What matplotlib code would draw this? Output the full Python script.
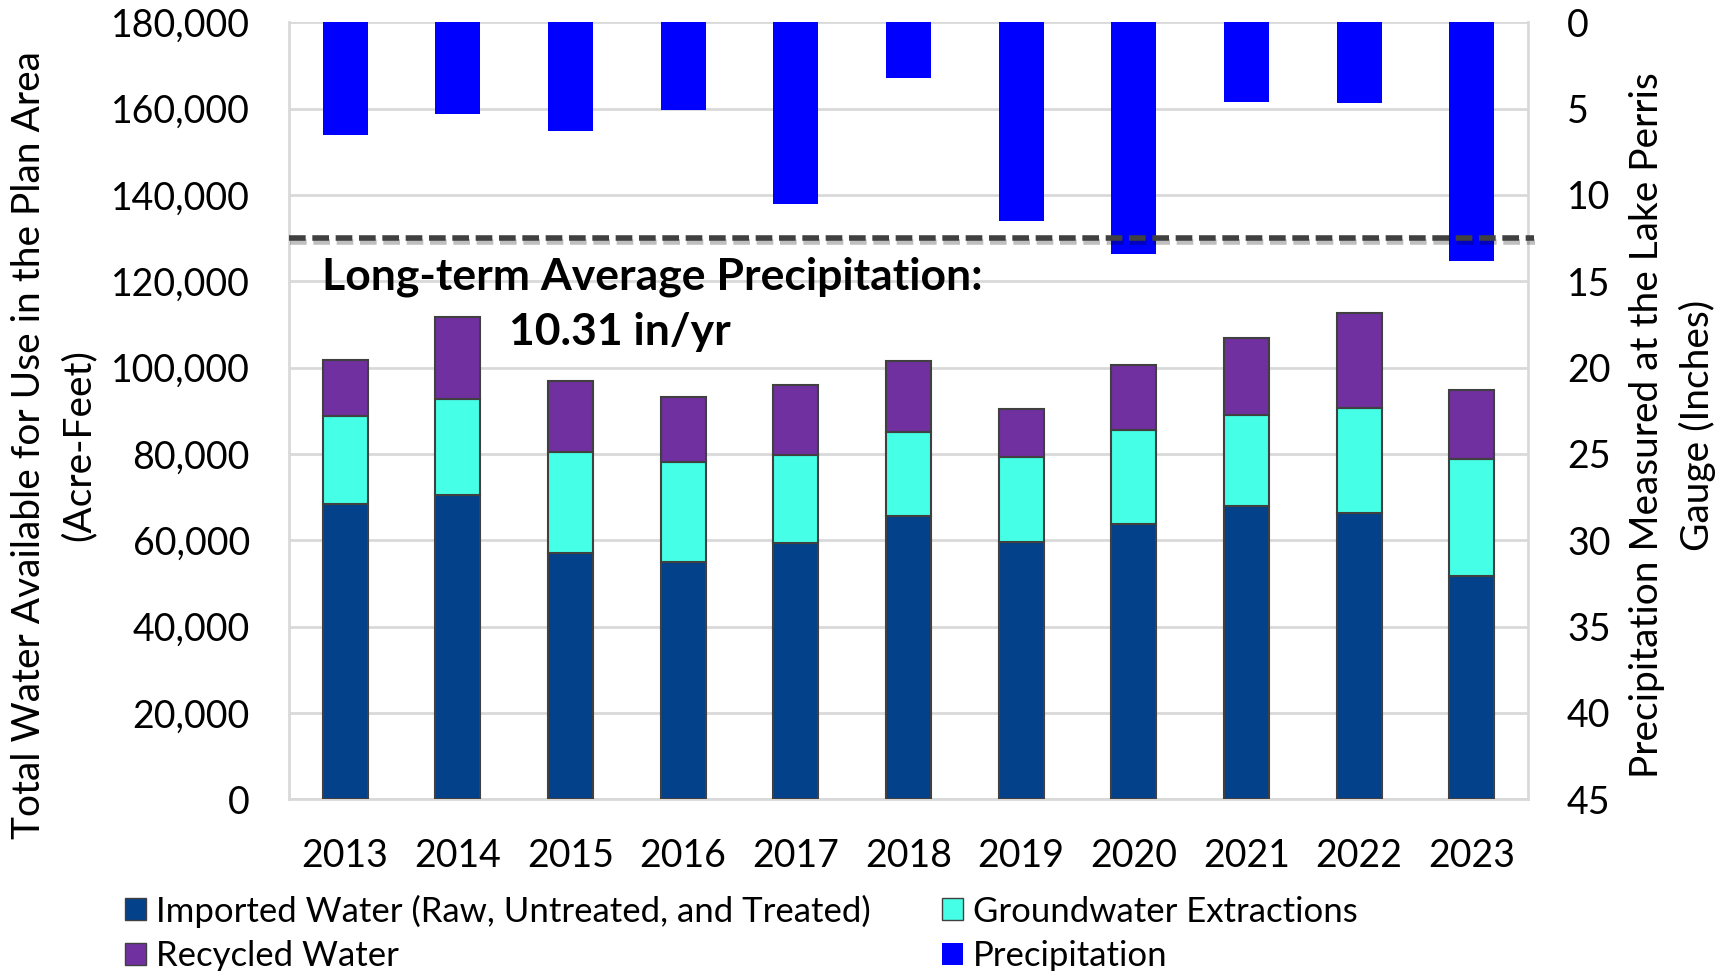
"""Water supply in the plan area vs. precipitation at Lake Perris"""
import numpy as np
import matplotlib
matplotlib.use("Agg")
from matplotlib import pyplot as plt
from matplotlib import patheffects as pe
from matplotlib.patches import Patch
from matplotlib.ticker import FuncFormatter

years = ["2013", "2014", "2015", "2016", "2017", "2018", "2019", "2020", "2021", "2022", "2023"]
imported = [68500, 70500, 57000, 54900, 59300, 65600, 59500, 63800, 68000, 66400, 51700]
groundwater = [20300, 22300, 23500, 23200, 20500, 19500, 19700, 21800, 20900, 24300, 27200]
recycled = [12900, 18900, 16300, 15100, 16200, 16500, 11200, 15100, 17900, 21900, 15800]
precip = [6.5, 5.3, 6.3, 5.1, 10.5, 3.2, 11.5, 13.4, 4.6, 4.7, 13.8]
avg_line = 130000  # where the long-term average line is drawn (left axis units)

c_imp = "#03418A"
c_gw = "#45FFE6"
c_rec = "#7030A0"
c_pre = "#0000FF"
edge = "#404040"

plt.rcParams["font.family"] = ["Lato", "DejaVu Sans"]

if __name__ == "__main__":
    fig = plt.figure(figsize=(17.31, 9.71), dpi=100)
    ax = fig.add_axes([0.1668, 0.177, 0.716, 0.800])
    x = np.arange(len(years))
    w = 0.40

    imp = np.array(imported)
    gw = np.array(groundwater)
    rec = np.array(recycled)
    ax.bar(x, imp, w, color=c_imp, edgecolor=edge, linewidth=1.5, zorder=3)
    ax.bar(x, gw, w, bottom=imp, color=c_gw, edgecolor=edge, linewidth=1.5, zorder=3)
    ax.bar(x, rec, w, bottom=imp + gw, color=c_rec, edgecolor=edge, linewidth=1.5, zorder=3)

    ax.set_ylim(0, 180000)
    ax.set_xlim(-0.5, len(years) - 0.5)
    ax.set_yticks(np.arange(0, 180001, 20000))
    ax.yaxis.set_major_formatter(FuncFormatter(lambda v, p: f"{v:,.0f}"))
    ax.set_xticks(x)
    ax.set_xticklabels(years)
    ax.tick_params(axis="y", length=0, labelsize=27, pad=28)
    ax.tick_params(axis="x", length=0, labelsize=27, pad=28)
    ax.grid(axis="y", color="#D9D9D9", linewidth=2, zorder=0)
    for s in ["top", "right"]:
        ax.spines[s].set_visible(False)
    for s in ["left", "bottom"]:
        ax.spines[s].set_color("#D9D9D9")
        ax.spines[s].set_linewidth(2)

    ax2 = ax.twinx()
    ax2.bar(x, precip, w, color=c_pre, zorder=3)
    ax2.set_ylim(45, 0)
    ax2.set_yticks(np.arange(0, 46, 5))
    ax2.tick_params(axis="y", length=0, labelsize=27, pad=28)
    for s in ["top", "left", "bottom"]:
        ax2.spines[s].set_visible(False)
    ax2.spines["right"].set_color("#D9D9D9")
    ax2.spines["right"].set_linewidth(2)

    fig.text(0.031, 0.542, "Total Water Available for Use in the Plan Area\n(Acre-Feet)",
             fontsize=28, rotation=90, ha="center", va="center", multialignment="center",
             linespacing=1.45)
    fig.text(0.966, 0.562, "Precipitation Measured at the Lake Perris\nGauge (Inches)",
             fontsize=28, rotation=90, ha="center", va="center", multialignment="center",
             linespacing=1.45)

    ax2.plot([-0.5, len(years) - 0.45], [avg_line, avg_line], transform=ax.transData,
             color="#404040", linestyle=(0, (3, 1.2)), linewidth=4, zorder=4, clip_on=False,
             path_effects=[pe.SimpleLineShadow(offset=(1, -3), alpha=0.25), pe.Normal()])
    ax2.text(2.73, 121000, "Long-term Average Precipitation:", transform=ax.transData,
             fontsize=32, fontweight="bold", ha="center", va="center", zorder=5)
    ax2.text(2.44, 108300, "10.31 in/yr", transform=ax.transData,
             fontsize=32, fontweight="bold", ha="center", va="center", zorder=5)

    handles = [
        Patch(facecolor=c_imp, edgecolor=edge, label="Imported Water (Raw, Untreated, and Treated)"),
        Patch(facecolor=c_rec, edgecolor=edge, label="Recycled Water"),
        Patch(facecolor=c_gw, edgecolor=edge, label="Groundwater Extractions"),
        Patch(facecolor=c_pre, label="Precipitation"),
    ]
    fig.legend(handles=handles, ncol=2, loc="lower left", bbox_to_anchor=(0.054, -0.033),
               frameon=False, fontsize=25, handlelength=0.6, handleheight=0.6,
               handletextpad=0.3, columnspacing=2.05, labelspacing=0.35)

    fig.savefig("out.png", dpi=100)
